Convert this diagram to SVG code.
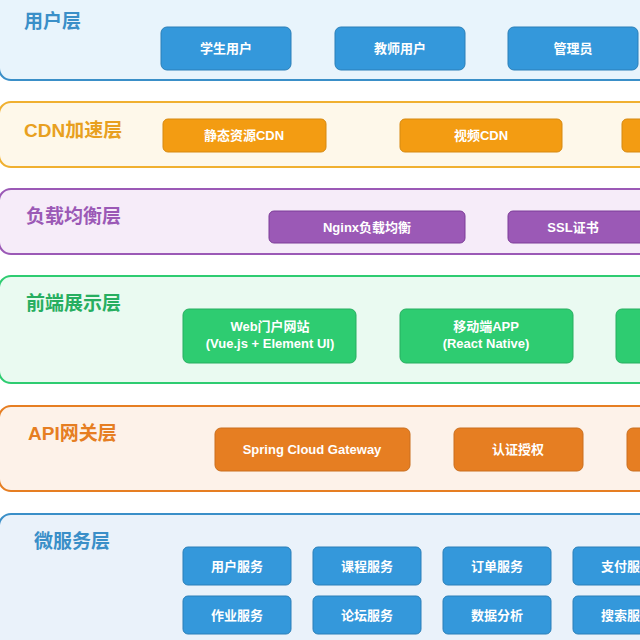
<svg xmlns="http://www.w3.org/2000/svg" width="640" height="640" viewBox="0 0 640 640">
<style>
.t{font-family:"Liberation Sans","Noto Sans CJK SC",sans-serif;font-weight:bold;font-size:19px}
.n{font-family:"Liberation Sans","Noto Sans CJK SC",sans-serif;font-weight:bold;font-size:13px;fill:#fff;text-anchor:middle}
.L{stroke-width:2}
.b rect{fill:#3498db;stroke:#2a7fb8;stroke-width:1}
.o rect{fill:#f39c12;stroke:#d68910;stroke-width:1}
.p rect{fill:#9b59b6;stroke:#7d3c98;stroke-width:1}
.g rect{fill:#2ecc71;stroke:#27ae60;stroke-width:1}
.r rect{fill:#e67e22;stroke:#ca6f1e;stroke-width:1}
</style>
<rect x="-1" y="-20" width="670" height="100" rx="12" fill="#e8f4fc" stroke="#3a8fc8" class="L"/>
<text x="24" y="28" class="t" fill="#3a8fc8">用户层</text>
<rect x="-1" y="102" width="670" height="65" rx="12" fill="#fef8ea" stroke="#f0b030" class="L"/>
<text x="24" y="137" class="t" fill="#e8a020">CDN加速层</text>
<rect x="-1" y="189" width="670" height="65" rx="12" fill="#f6ecf9" stroke="#9b59b6" class="L"/>
<text x="26" y="223" class="t" fill="#9b59b6">负载均衡层</text>
<rect x="-1" y="276" width="670" height="107" rx="12" fill="#eafaf1" stroke="#2ecc71" class="L"/>
<text x="26" y="310" class="t" fill="#27ae60">前端展示层</text>
<rect x="-1" y="406" width="670" height="85" rx="12" fill="#fdf2e9" stroke="#e67e22" class="L"/>
<text x="28" y="440" class="t" fill="#e67e22">API网关层</text>
<rect x="-1" y="514" width="670" height="150" rx="12" fill="#eaf2fa" stroke="#3a8fc8" class="L"/>
<text x="34" y="548" class="t" fill="#3a8fc8">微服务层</text>

<g class="b">
<g id="n1"><rect x="161" y="27" width="130" height="43" rx="6"/><text x="226" y="53" class="n">学生用户</text></g>
<g id="n2"><rect x="335" y="27" width="130" height="43" rx="6"/><text x="400" y="53" class="n">教师用户</text></g>
<g id="n3"><rect x="508" y="27" width="130" height="43" rx="6"/><text x="573" y="53" class="n">管理员</text></g>
</g>
<g class="o">
<g id="n4"><rect x="163" y="119" width="163" height="33" rx="5"/><text x="244" y="140" class="n">静态资源CDN</text></g>
<g id="n5"><rect x="400" y="119" width="162" height="33" rx="5"/><text x="481" y="140" class="n">视频CDN</text></g>
<g id="n6"><rect x="622" y="119" width="60" height="33" rx="5"/></g>
</g>
<g class="p">
<g id="n7"><rect x="269" y="211" width="196" height="32" rx="5"/><text x="367" y="232" class="n">Nginx负载均衡</text></g>
<g id="n8"><rect x="508" y="211" width="150" height="32" rx="5"/><text x="573" y="232" class="n">SSL证书</text></g>
</g>
<g class="g">
<g id="n9"><rect x="183" y="309" width="173" height="54" rx="6"/><text x="270" y="331" class="n">Web门户网站</text><text x="270" y="348" class="n">(Vue.js + Element UI)</text></g>
<g id="n10"><rect x="400" y="309" width="173" height="54" rx="6"/><text x="486" y="331" class="n">移动端APP</text><text x="486" y="348" class="n">(React Native)</text></g>
<g id="n11"><rect x="616" y="309" width="60" height="54" rx="6"/></g>
</g>
<g class="r">
<g id="n12"><rect x="215" y="428" width="195" height="43" rx="6"/><text x="312" y="454" class="n">Spring Cloud Gateway</text></g>
<g id="n13"><rect x="454" y="428" width="129" height="43" rx="6"/><text x="518" y="454" class="n">认证授权</text></g>
<g id="n14"><rect x="627" y="428" width="60" height="43" rx="6"/></g>
</g>
<g class="b">
<g id="s1"><rect x="183" y="547" width="108" height="38" rx="5"/><text x="237" y="571" class="n">用户服务</text></g>
<g id="s2"><rect x="313" y="547" width="108" height="38" rx="5"/><text x="367" y="571" class="n">课程服务</text></g>
<g id="s3"><rect x="443" y="547" width="108" height="38" rx="5"/><text x="497" y="571" class="n">订单服务</text></g>
<g id="s4"><rect x="573" y="547" width="108" height="38" rx="5"/><text x="627" y="571" class="n">支付服务</text></g>
<g id="s5"><rect x="183" y="596" width="108" height="38" rx="5"/><text x="237" y="620" class="n">作业服务</text></g>
<g id="s6"><rect x="313" y="596" width="108" height="38" rx="5"/><text x="367" y="620" class="n">论坛服务</text></g>
<g id="s7"><rect x="443" y="596" width="108" height="38" rx="5"/><text x="497" y="620" class="n">数据分析</text></g>
<g id="s8"><rect x="573" y="596" width="108" height="38" rx="5"/><text x="627" y="620" class="n">搜索服务</text></g>
</g>
<g id="connectors"/>
</svg>
